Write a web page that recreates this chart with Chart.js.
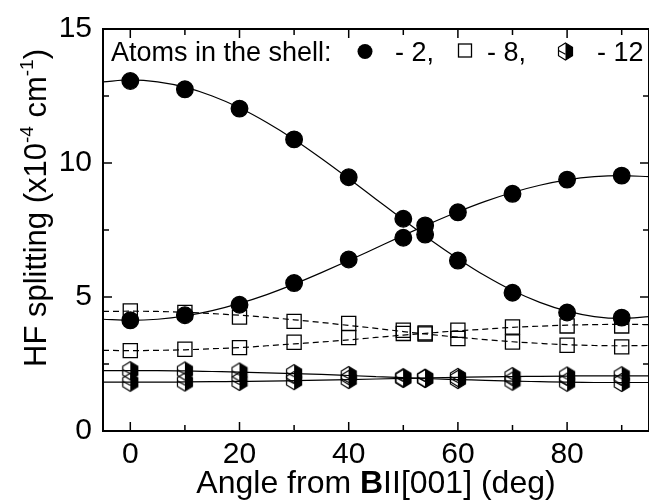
<!DOCTYPE html>
<html>
<head>
<meta charset="utf-8">
<script src="https://cdn.jsdelivr.net/npm/chart.js@4.4.1/dist/chart.umd.min.js"></script>
<style>
    body { margin: 0; background: #fff; }
    #chart { display: block; }
</style>
</head>
<body>
<canvas id="chart" width="649" height="503"></canvas>
<script>
// measured angles (deg)
const angles = [0, 10, 20, 30, 40, 50, 54, 60, 70, 80, 90];

// 2 atoms in the shell
const twoAtomsDown = [13.06, 12.75, 12.03, 10.88, 9.47, 7.92, 7.67, 6.36, 5.16, 4.42, 4.23];
const twoAtomsUp = [4.13, 4.32, 4.71, 5.52, 6.40, 7.21, 7.33, 8.16, 8.85, 9.38, 9.53];

// 8 atoms in the shell
const eightAtomsDown = [4.48, 4.42, 4.25, 4.09, 4.01, 3.76, 3.66, 3.45, 3.32, 3.20, 3.14];
const eightAtomsUp = [3.00, 3.05, 3.11, 3.31, 3.49, 3.64, 3.62, 3.76, 3.88, 3.92, 3.92];

// 12 atoms in the shell
const twelveAtomsDown = [2.25, 2.24, 2.20, 2.14, 2.07, 1.99, 1.96, 1.92, 1.86, 1.82, 1.81];
const twelveAtomsUp = [1.82, 1.83, 1.85, 1.88, 1.92, 1.96, 1.97, 2.00, 2.03, 2.05, 2.06];

// fitted curves
const fitAngles = [-5, 0, 5, 10, 15, 20, 25, 30, 35, 40, 45, 50, 55, 60, 65, 70, 75, 80, 85, 90, 95];
const fitTwoDown = [13.03, 13.1, 13.03, 12.83, 12.50, 12.06, 11.51, 10.88, 10.17, 9.42, 8.65, 7.88, 7.13, 6.43, 5.79, 5.24, 4.80, 4.47, 4.27, 4.20, 4.27];
const fitTwoUp = [4.17, 4.13, 4.17, 4.29, 4.49, 4.76, 5.09, 5.48, 5.91, 6.36, 6.83, 7.30, 7.75, 8.18, 8.57, 8.90, 9.17, 9.37, 9.49, 9.53, 9.49];
const fitEightDown = [4.46, 4.47, 4.46, 4.43, 4.38, 4.32, 4.24, 4.15, 4.05, 3.94, 3.83, 3.71, 3.60, 3.50, 3.41, 3.33, 3.27, 3.22, 3.19, 3.18, 3.19];
const fitEightUp = [3.01, 3.00, 3.01, 3.03, 3.07, 3.11, 3.18, 3.25, 3.32, 3.40, 3.49, 3.58, 3.66, 3.74, 3.80, 3.87, 3.91, 3.95, 3.97, 3.98, 3.97];
const fitTwelveDown = [2.25, 2.25, 2.25, 2.24, 2.22, 2.20, 2.17, 2.14, 2.11, 2.07, 2.03, 1.99, 1.95, 1.92, 1.89, 1.86, 1.84, 1.82, 1.81, 1.81, 1.81];
const fitTwelveUp = [1.82, 1.82, 1.82, 1.83, 1.84, 1.85, 1.86, 1.88, 1.90, 1.92, 1.94, 1.96, 1.98, 2.00, 2.02, 2.03, 2.04, 2.05, 2.06, 2.06, 2.06];

// axis ticks
const xMajorTicks = [0, 20, 40, 60, 80];
const xMinorTicks = [10, 30, 50, 70, 90];
const yMajorTicks = [0, 5, 10, 15];
const yMinorTicks = [2.5, 7.5, 12.5];

const FONT = "'Liberation Sans', Arial, sans-serif";

/**
 * half filled hexagon, like the origin marker
 */
function drawHexagon(ctx, cx, cy, w, h) {
    ctx.save();
    ctx.lineWidth = 1.2;
    ctx.strokeStyle = "#000";
    ctx.beginPath();
    ctx.moveTo(cx, cy - h);
    ctx.lineTo(cx + w, cy - h / 2);
    ctx.lineTo(cx + w, cy + h / 2);
    ctx.lineTo(cx, cy + h);
    ctx.closePath();
    ctx.fillStyle = "#000";
    ctx.fill();
    ctx.beginPath();
    ctx.moveTo(cx, cy - h);
    ctx.lineTo(cx + w, cy - h / 2);
    ctx.lineTo(cx + w, cy + h / 2);
    ctx.lineTo(cx, cy + h);
    ctx.lineTo(cx - w, cy + h / 2);
    ctx.lineTo(cx - w, cy - h / 2);
    ctx.closePath();
    ctx.stroke();
    ctx.beginPath();
    ctx.moveTo(cx - w, cy - 1);
    ctx.lineTo(cx, cy + h / 3);
    ctx.stroke();
    ctx.restore();
}

function hexagonImage() {
    const c = document.createElement("canvas");
    c.width = 18;
    c.height = 21;
    drawHexagon(c.getContext("2d"), 9, 10.5, 7.5, 9);
    return c;
}

function toPoints(xs, ys) {
    return xs.map((x, i) => ({ x: x, y: ys[i] }));
}

function fitLine(ys, dashed) {
    return {
        data: toPoints(fitAngles, ys),
        showLine: true,
        borderColor: "#000",
        borderWidth: 1.2,
        borderDash: dashed ? [6, 4] : [],
        pointRadius: 0,
        cubicInterpolationMode: "monotone",
    };
}

function markers(ys, style, radius, fill) {
    return {
        data: toPoints(angles, ys),
        showLine: false,
        pointStyle: style,
        pointRadius: radius,
        pointHoverRadius: radius,
        pointBackgroundColor: fill,
        pointBorderColor: "#000",
        pointBorderWidth: 1.3,
    };
}

const hex = hexagonImage();

const frame = {
    id: "frame",
    afterDraw(chart) {
        const ctx = chart.ctx;
        const a = chart.chartArea;
        const xs = chart.scales.x;
        const ys = chart.scales.y;
        ctx.save();
        ctx.strokeStyle = "#000";
        ctx.lineWidth = 2;
        ctx.strokeRect(a.left, a.top, a.right - a.left, a.bottom - a.top);

        ctx.lineWidth = 1.5;
        const tick = (x1, y1, x2, y2) => {
            ctx.beginPath();
            ctx.moveTo(x1, y1);
            ctx.lineTo(x2, y2);
            ctx.stroke();
        };
        for (let v of xMajorTicks.concat(xMinorTicks)) {
            const len = xMajorTicks.includes(v) ? 9 : 6;
            const px = xs.getPixelForValue(v);
            tick(px, a.bottom, px, a.bottom - len);
            tick(px, a.top, px, a.top + len);
        }
        for (let v of yMajorTicks.concat(yMinorTicks)) {
            const len = yMajorTicks.includes(v) ? 9 : 6;
            const py = ys.getPixelForValue(v);
            tick(a.left, py, a.left + len, py);
            tick(a.right, py, a.right - len, py);
        }

        // x title with bold B
        ctx.fillStyle = "#000";
        ctx.textBaseline = "alphabetic";
        ctx.textAlign = "left";
        const parts = [
            ["Angle from ", "32px " + FONT],
            ["B", "bold 32px " + FONT],
            ["II[001] (deg)", "32px " + FONT],
        ];
        let total = 0;
        for (let p of parts) {
            ctx.font = p[1];
            total += ctx.measureText(p[0]).width;
        }
        let x = (a.left + a.right) / 2 - total / 2;
        for (let p of parts) {
            ctx.font = p[1];
            ctx.fillText(p[0], x, 493);
            x += ctx.measureText(p[0]).width;
        }

        // y title, rotated, with superscripts
        ctx.save();
        ctx.translate(46, 367);
        ctx.rotate(-Math.PI / 2);
        const yparts = [
            ["HF splitting (x10", "31px " + FONT, 0],
            ["-4", "19px " + FONT, -13],
            [" cm", "31px " + FONT, 0],
            ["-1", "19px " + FONT, -13],
            [")", "31px " + FONT, 0],
        ];
        let yx = 0;
        for (let p of yparts) {
            ctx.font = p[1];
            ctx.fillText(p[0], yx, p[2]);
            yx += ctx.measureText(p[0]).width;
        }
        ctx.restore();

        // legend line
        ctx.font = "27px " + FONT;
        ctx.fillText("Atoms in the shell:", 111, 61);
        ctx.beginPath();
        ctx.arc(365, 51.5, 7.5, 0, Math.PI * 2);
        ctx.fill();
        ctx.fillText("- 2,", 395, 61);
        ctx.lineWidth = 1.3;
        ctx.strokeRect(458.5, 44, 13, 13);
        ctx.fillText("- 8,", 487, 61);
        drawHexagon(ctx, 565.5, 51.5, 7, 8.5);
        ctx.fillText("- 12", 597, 61);
        ctx.restore();
    },
};

const data = {
    datasets: [
        fitLine(fitTwoDown, false),
        fitLine(fitTwoUp, false),
        fitLine(fitEightDown, true),
        fitLine(fitEightUp, true),
        fitLine(fitTwelveDown, false),
        fitLine(fitTwelveUp, false),
        markers(twoAtomsDown, "circle", 8.3, "#000"),
        markers(twoAtomsUp, "circle", 8.3, "#000"),
        markers(eightAtomsDown, "rect", 10, "rgba(255,255,255,0)"),
        markers(eightAtomsUp, "rect", 10, "rgba(255,255,255,0)"),
        markers(twelveAtomsDown, hex, 9, "#fff"),
        markers(twelveAtomsUp, hex, 9, "#fff"),
    ],
};

const config = {
    type: "scatter",
    data: data,
    options: {
        responsive: false,
        animation: false,
        devicePixelRatio: 1,
        layout: {
            autoPadding: false,
            padding: { top: 28, right: 0, left: 0, bottom: 0 },
        },
        plugins: {
            legend: { display: false },
            tooltip: { enabled: false },
        },
        scales: {
            x: {
                type: "linear",
                min: -5,
                max: 95,
                afterBuildTicks: (scale) => {
                    scale.ticks = xMajorTicks.map((v) => ({ value: v }));
                },
                afterFit: (scale) => {
                    scale.height = 72;
                },
                grid: { display: false, drawTicks: false },
                border: { display: false },
                ticks: {
                    color: "#000",
                    padding: 6,
                    maxRotation: 0,
                    font: { family: FONT, size: 30 },
                },
            },
            y: {
                type: "linear",
                min: 0,
                max: 15,
                afterBuildTicks: (scale) => {
                    scale.ticks = yMajorTicks.map((v) => ({ value: v }));
                },
                afterFit: (scale) => {
                    scale.width = 103;
                },
                grid: { display: false, drawTicks: false },
                border: { display: false },
                ticks: {
                    color: "#000",
                    padding: 11,
                    font: { family: FONT, size: 30 },
                },
            },
        },
    },
    plugins: [frame],
};

new Chart(document.getElementById("chart"), config);
</script>
</body>
</html>
